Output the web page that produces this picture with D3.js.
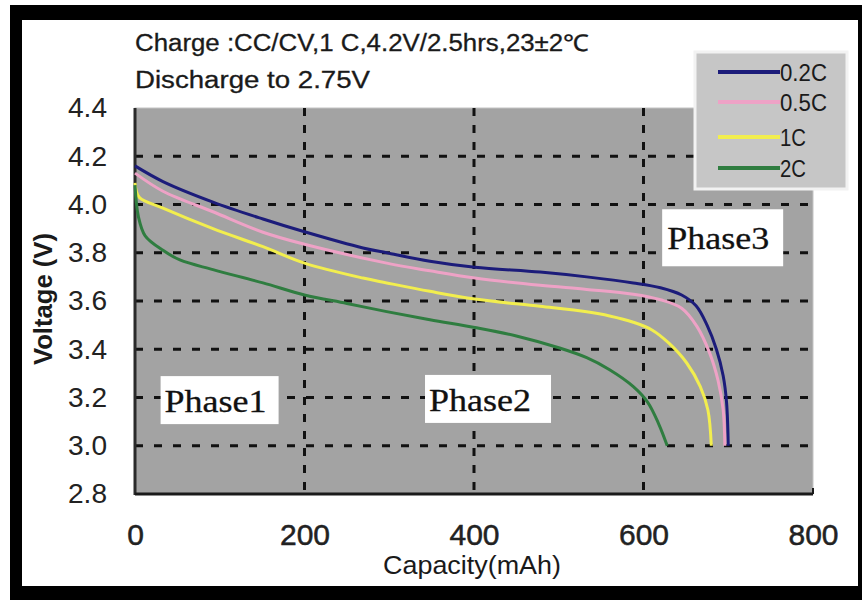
<!DOCTYPE html>
<html>
<head>
<meta charset="utf-8">
<script src="https://cdn.jsdelivr.net/npm/d3@7"></script>
<style>
  body { margin: 0; background: #fff; }
  svg { display: block; }
  .tick-y text, .tick-x text { font-family: "Liberation Sans", Arial, sans-serif; fill: #222; }
</style>
</head>
<body>
<svg id="chart" width="862" height="600"></svg>
<script>
// discharge curves: [capacity mAh, voltage V]
const rate02 = [[0,4.16],[33,4.095],[92,4.01],[151,3.94],[200,3.887],[269,3.82],[297,3.80],[348,3.765],[401,3.74],[478,3.72],[533,3.70],[588,3.675],[620,3.655],[645,3.625],[662,3.58],[675,3.50],[686,3.40],[694,3.29],[698,3.18],[700,3.0]];
const rate05 = [[0,4.13],[33,4.055],[92,3.97],[151,3.885],[200,3.835],[297,3.757],[348,3.725],[401,3.695],[478,3.665],[533,3.648],[588,3.628],[620,3.605],[645,3.57],[663,3.495],[678,3.385],[688,3.27],[694,3.15],[696,3.0]];
const rate1 = [[0,4.09],[5,4.03],[33,3.985],[92,3.90],[151,3.825],[200,3.757],[269,3.695],[297,3.675],[348,3.64],[401,3.608],[478,3.578],[533,3.555],[560,3.538],[588,3.512],[610,3.48],[630,3.425],[651,3.343],[667,3.245],[676,3.148],[680,3.0]];
const rate2 = [[0,4.08],[4,3.95],[12,3.87],[33,3.81],[53,3.77],[92,3.73],[151,3.675],[200,3.625],[250,3.59],[297,3.556],[348,3.522],[401,3.49],[450,3.455],[501,3.405],[533,3.365],[560,3.315],[588,3.245],[605,3.18],[618,3.09],[628,3.0]];

const seriesNames = ["0.2C", "0.5C", "1C", "2C"];
const seriesData = [rate02, rate05, rate1, rate2];
const seriesColors = ["#1c1c7a", "#eea2c6", "#f2ee4e", "#2f7d40"];

const xTicks = [0, 200, 400, 600, 800];
const yTicks = [2.8, 3.0, 3.2, 3.4, 3.6, 3.8, 4.0, 4.2, 4.4];
const yGrid = [3.0, 3.2, 3.4, 3.6, 3.8, 4.0, 4.2];
const xGrid = [200, 400, 600];

const phaseLabels = ["Phase1", "Phase2", "Phase3"];
const phaseAt = [[101, 3.185], [413, 3.19], [694, 3.86]];

const titleLines = ["Charge :CC/CV,1 C,4.2V/2.5hrs,23±2℃", "Discharge to 2.75V"];

const svg = d3.select("#chart");

// outer black frame
svg.append("rect").attr("x", 10).attr("y", 5).attr("width", 852).attr("height", 595).attr("fill", "#000");
svg.append("rect").attr("x", 22).attr("y", 20).attr("width", 836).attr("height", 566).attr("fill", "#fff");

const x = d3.scaleLinear().domain([0, 800]).range([135, 813]);
const y = d3.scaleLinear().domain([2.8, 4.4]).range([494, 108]);

// plot background
svg.append("rect")
  .attr("x", x(0)).attr("y", y(4.4))
  .attr("width", x(800) - x(0)).attr("height", y(2.8) - y(4.4))
  .attr("fill", "#a3a3a3")
  .attr("stroke", "#c4c4c4").attr("stroke-width", 1);

// grid
svg.append("g")
  .selectAll("line")
  .data(yGrid)
  .join("line")
  .attr("x1", x(0)).attr("x2", x(800))
  .attr("y1", d => y(d)).attr("y2", d => y(d))
  .attr("stroke", "#111").attr("stroke-width", 3)
  .attr("stroke-dasharray", "8,11");

svg.append("g")
  .selectAll("line")
  .data(xGrid)
  .join("line")
  .attr("x1", d => x(d)).attr("x2", d => x(d))
  .attr("y1", y(4.4)).attr("y2", y(2.8))
  .attr("stroke", "#111").attr("stroke-width", 3)
  .attr("stroke-dasharray", "8,9");

// axis lines
svg.append("line").attr("x1", x(0)).attr("x2", x(0)).attr("y1", y(4.4)).attr("y2", y(2.8) + 1)
  .attr("stroke", "#2a2a2a").attr("stroke-width", 3);
svg.append("line").attr("x1", x(0)).attr("x2", x(800)).attr("y1", y(2.8)).attr("y2", y(2.8))
  .attr("stroke", "#1a1a1a").attr("stroke-width", 3);
svg.append("line").attr("x1", x(800)).attr("x2", x(800)).attr("y1", y(2.8) - 6).attr("y2", y(2.8))
  .attr("stroke", "#1a1a1a").attr("stroke-width", 2);

// tick labels
const yAxis = svg.append("g")
  .attr("class", "tick-y")
  .attr("transform", `translate(${x(0)},0)`)
  .call(d3.axisLeft(y).tickValues(yTicks).tickSize(0).tickPadding(28).tickFormat(d3.format(".1f")));
yAxis.select(".domain").remove();
yAxis.selectAll("text")
  .attr("font-size", 28)
  .attr("textLength", 39)
  .attr("lengthAdjust", "spacingAndGlyphs");

const xAxis = svg.append("g")
  .attr("class", "tick-x")
  .attr("transform", `translate(0,${y(2.8)})`)
  .call(d3.axisBottom(x).tickValues(xTicks).tickSize(0).tickPadding(30).tickFormat(d3.format("d")));
xAxis.select(".domain").remove();
xAxis.selectAll("text")
  .attr("font-size", 30)
  .attr("stroke", "#222").attr("stroke-width", 0.5);

// curves
const line = d3.line()
  .x(d => x(d[0]))
  .y(d => y(d[1]))
  .curve(d3.curveCatmullRom.alpha(0.5));

svg.append("g")
  .selectAll("path")
  .data(seriesData)
  .join("path")
  .attr("d", line)
  .attr("fill", "none")
  .attr("stroke", (d, i) => seriesColors[i])
  .attr("stroke-width", 3);

// phase labels
const phases = svg.append("g")
  .selectAll("g")
  .data(phaseLabels)
  .join("g")
  .attr("transform", (d, i) => `translate(${x(phaseAt[i][0])},${y(phaseAt[i][1])})`);

phases.append("rect")
  .attr("x", (d, i) => i === 2 ? -61 : -60)
  .attr("y", (d, i) => i === 2 ? -29 : -25)
  .attr("width", (d, i) => i === 2 ? 121 : (i === 1 ? 126 : 118))
  .attr("height", (d, i) => i === 2 ? 57 : 48)
  .attr("fill", "#fff");

phases.append("text")
  .attr("x", -56)
  .attr("y", 11)
  .attr("font-family", "'Liberation Serif', 'Times New Roman', serif")
  .attr("font-size", 32)
  .attr("textLength", 102)
  .attr("lengthAdjust", "spacingAndGlyphs")
  .attr("fill", "#111")
  .attr("stroke", "#111").attr("stroke-width", 0.3)
  .text(d => d);

// title
svg.append("g")
  .selectAll("text")
  .data(titleLines)
  .join("text")
  .attr("x", 135)
  .attr("y", (d, i) => 51 + i * 37)
  .attr("font-family", "'Liberation Sans', Arial, sans-serif")
  .attr("font-size", 23)
  .attr("textLength", (d, i) => i === 0 ? 454 : 235)
  .attr("lengthAdjust", "spacingAndGlyphs")
  .attr("fill", "#1a1a1a")
  .attr("stroke", "#1a1a1a").attr("stroke-width", 0.3)
  .text(d => d);

// axis titles
svg.append("text")
  .attr("transform", "translate(52,299) rotate(-90)")
  .attr("text-anchor", "middle")
  .attr("font-family", "'Liberation Sans', Arial, sans-serif")
  .attr("font-size", 25)
  .attr("font-weight", "bold")
  .attr("textLength", 132)
  .attr("lengthAdjust", "spacingAndGlyphs")
  .attr("fill", "#1a1a1a")
  .text("Voltage (V)");

svg.append("text")
  .attr("x", 472)
  .attr("y", 574)
  .attr("text-anchor", "middle")
  .attr("font-family", "'Liberation Sans', Arial, sans-serif")
  .attr("font-size", 26)
  .attr("textLength", 178)
  .attr("lengthAdjust", "spacingAndGlyphs")
  .attr("fill", "#1a1a1a")
  .text("Capacity(mAh)");

// legend
const legend = svg.append("g").attr("transform", "translate(695,52)");
legend.append("rect")
  .attr("width", 152).attr("height", 137)
  .attr("fill", "#c6c6c6")
  .attr("stroke", "#f2f2f2").attr("stroke-width", 3);

const legendRows = legend.selectAll("g")
  .data(seriesNames)
  .join("g")
  .attr("transform", (d, i) => `translate(0,${[20, 50, 85, 116][i]})`);

legendRows.append("line")
  .attr("x1", 23).attr("x2", 85)
  .attr("stroke", (d, i) => seriesColors[i])
  .attr("stroke-width", 4);

legendRows.append("text")
  .attr("x", 85)
  .attr("y", 9)
  .attr("font-family", "'Liberation Sans', Arial, sans-serif")
  .attr("font-size", 24)
  .attr("textLength", (d) => d.length > 2 ? 47 : 26)
  .attr("lengthAdjust", "spacingAndGlyphs")
  .attr("fill", "#1a1a1a")
  .text(d => d);
</script>
</body>
</html>
